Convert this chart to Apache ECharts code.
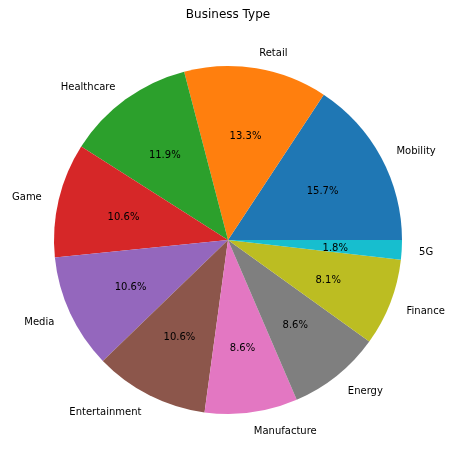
<!DOCTYPE html>
<html><head><meta charset="utf-8">
<script src="https://cdn.jsdelivr.net/npm/echarts@6/dist/echarts.min.js"></script>
<style>html,body{margin:0;padding:0;background:#fff}#c{width:456px;height:468px}</style>
</head><body><div id="c"></div>
<script>
const categories = ['Mobility','Retail','Healthcare','Game','Media','Entertainment','Manufacture','Energy','Finance','5G'];
const values = [15.7, 13.3, 11.9, 10.6, 10.6, 10.6, 8.6, 8.6, 8.1, 1.8];
const colors = ['#1f77b4','#ff7f0e','#2ca02c','#d62728','#9467bd','#8c564b','#e377c2','#7f7f7f','#bcbd22','#17becf'];
const R = 174;
const font = 'DejaVu Sans';
const data = categories.map((c,i)=>({name:c, value:values[i]}));
const chart = echarts.init(document.getElementById('c'), null, {renderer:'canvas'});
chart.setOption({
  animation:false,
  title:{text:'Business Type', left:'center', top:4, textStyle:{fontFamily:font, fontSize:12, fontWeight:'normal', color:'#000'}},
  color:colors,
  series:[
    {type:'pie', center:[228,240], radius:[0,R], startAngle:0, clockwise:false, avoidLabelOverlap:false,
     itemStyle:{borderWidth:0}, silent:true,
     label:{show:true, position:'outside', fontFamily:font, fontSize:10, color:'#000', distanceToLabelLine:0, formatter:'{b}'},
     labelLine:{show:false, length:R*0.1, length2:0},
     labelLayout:{dy:2},
     data:data},
    {type:'pie', center:[228,240], radius:[0,R*1.2], startAngle:0, clockwise:false, avoidLabelOverlap:false, silent:true,
     itemStyle:{color:'rgba(0,0,0,0)', borderWidth:0},
     label:{show:true, position:'inside', fontFamily:font, fontSize:10, color:'#000',
       formatter:p=>p.value.toFixed(1)+'%'},
     labelLine:{show:false},
     labelLayout:{dy:2},
     data:data, z:5}
  ]
});
</script></body></html>
